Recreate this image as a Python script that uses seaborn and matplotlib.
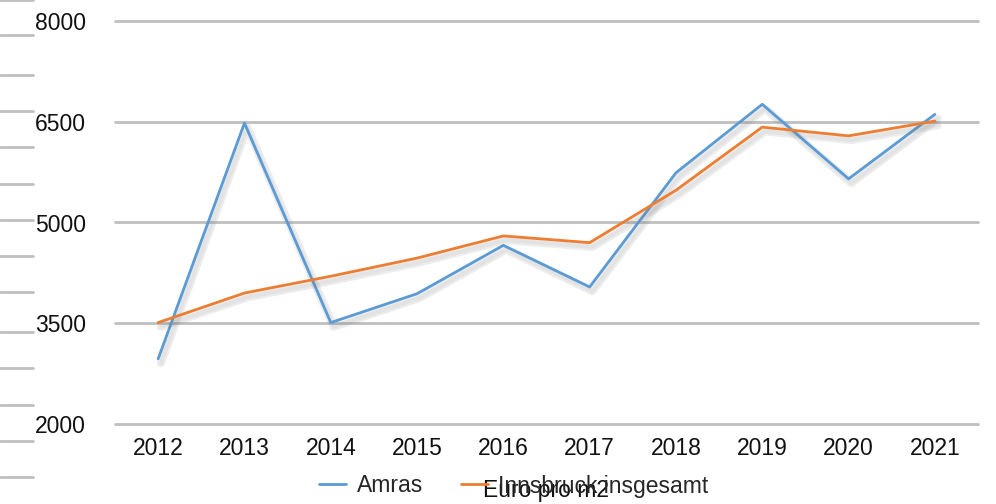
import matplotlib
matplotlib.use("Agg")
import matplotlib.pyplot as plt
import matplotlib.patheffects as pe
from matplotlib.lines import Line2D
import seaborn as sns
import pandas as pd

years = [2012, 2013, 2014, 2015, 2016, 2017, 2018, 2019, 2020, 2021]
amras = [2970, 6480, 3510, 3940, 4660, 4040, 5740, 6760, 5650, 6610]
innsbruck = [3510, 3950, 4200, 4470, 4800, 4700, 5480, 6420, 6290, 6510]
series_names = ["Amras", "Innsbruck insgesamt"]
colors = ["#5B9BD5", "#ED7D31"]
yticks = [2000, 3500, 5000, 6500, 8000]
xlabel = "Euro pro m2"

df = pd.DataFrame({
    "Jahr": [str(y) for y in years] * 2,
    "Wert": amras + innsbruck,
    "Serie": [series_names[0]] * len(years) + [series_names[1]] * len(years),
})

sns.set_theme(style="white")
plt.rcParams["font.family"] = ["Liberation Sans", "DejaVu Sans"]
FS = 16.5

fig = plt.figure(figsize=(9.96, 5.04), dpi=100)
ax = fig.add_axes([115 / 996, (504 - 424) / 504, (978 - 115) / 996, (424 - 21) / 504])

shadow = [pe.SimpleLineShadow(offset=(2, -3), shadow_color="0.45", alpha=0.12, linewidth=6),
          pe.SimpleLineShadow(offset=(2, -3), shadow_color="0.45", alpha=0.08, linewidth=3),
          pe.Normal()]
sns.lineplot(data=df, x="Jahr", y="Wert", hue="Serie", palette=colors, ax=ax,
             linewidth=2, legend=False, sort=False, path_effects=shadow)

ax.set_ylim(2000, 8000)
ax.set_xlim(-0.5, len(years) - 0.5)
ax.set_yticks(yticks)
ax.set_yticklabels([str(t) for t in yticks])
ax.yaxis.grid(True, color="#BFBFBF", linewidth=2)
for gl in ax.yaxis.get_gridlines():
    gl.set_clip_on(False)
ax.xaxis.grid(False)
ax.set_axisbelow(True)
for s in ax.spines.values():
    s.set_visible(False)
ax.tick_params(axis="both", length=0, labelsize=FS, colors="#111111")
ax.tick_params(axis="y", pad=21)
ax.tick_params(axis="x", pad=9.5)
ax.set_xlabel("")
ax.set_ylabel("")

# decorative left dashes
for yp in [0, 35, 75, 111, 147, 184, 220, 256, 292, 332, 368, 405, 441, 477]:
    fig.add_artist(Line2D([0, 33 / 996], [1 - yp / 504, 1 - yp / 504],
                          transform=fig.transFigure, color="#BFBFBF", linewidth=2))

handles = [Line2D([0], [0], color=c, linewidth=2) for c in colors]
fig.legend(handles, series_names, loc="center", bbox_to_anchor=(0.516, 1 - 486 / 504),
           ncol=2, frameon=False, fontsize=FS, handlelength=1.18, handletextpad=0.45,
           columnspacing=1.65)
fig.text(546 / 996, 1 - 491 / 504, xlabel, ha="center", va="center", fontsize=FS, color="#111111")

fig.savefig("out.png", dpi=100)
